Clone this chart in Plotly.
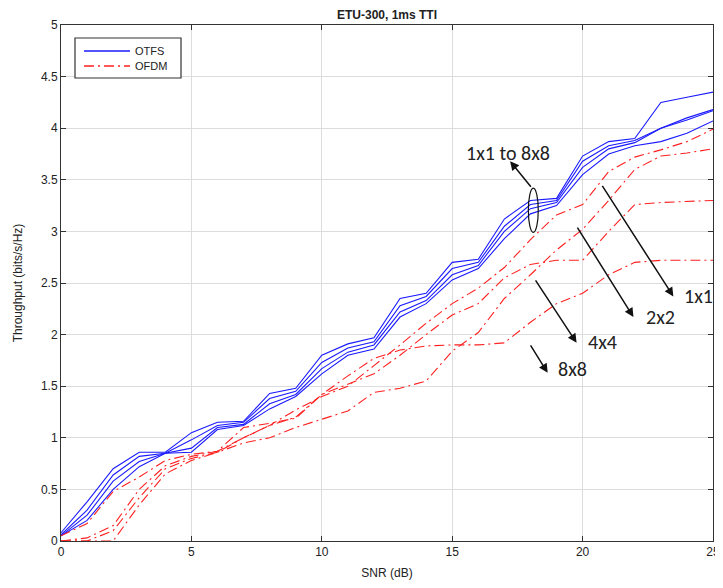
import plotly.graph_objects as go

snr = list(range(0, 26))

otfs_1 = [0.08, 0.38, 0.70, 0.86, 0.86, 1.05, 1.15, 1.16, 1.43, 1.48, 1.80, 1.91, 1.97, 2.35, 2.40, 2.70, 2.73, 3.12, 3.30, 3.32, 3.73, 3.87, 3.90, 4.25, 4.30, 4.35]
otfs_2 = [0.06, 0.30, 0.64, 0.82, 0.85, 0.98, 1.12, 1.15, 1.38, 1.45, 1.73, 1.87, 1.93, 2.28, 2.37, 2.64, 2.70, 3.05, 3.26, 3.30, 3.68, 3.83, 3.88, 4.00, 4.10, 4.18]
otfs_3 = [0.05, 0.25, 0.58, 0.77, 0.85, 0.90, 1.10, 1.13, 1.33, 1.42, 1.67, 1.83, 1.90, 2.22, 2.33, 2.58, 2.67, 3.00, 3.22, 3.28, 3.62, 3.80, 3.86, 4.00, 4.08, 4.17]
otfs_4 = [0.05, 0.20, 0.50, 0.72, 0.85, 0.86, 1.08, 1.12, 1.28, 1.40, 1.62, 1.80, 1.86, 2.17, 2.30, 2.53, 2.64, 2.93, 3.17, 3.25, 3.55, 3.75, 3.83, 3.87, 3.95, 4.07]

ofdm_1x1 = [0.05, 0.17, 0.48, 0.62, 0.78, 0.84, 0.87, 1.00, 1.12, 1.27, 1.40, 1.50, 1.70, 1.90, 2.11, 2.30, 2.45, 2.65, 2.92, 3.16, 3.26, 3.58, 3.72, 3.79, 3.87, 3.99]
ofdm_2x2 = [0.00, 0.00, 0.10, 0.42, 0.70, 0.80, 0.86, 0.95, 1.00, 1.10, 1.18, 1.26, 1.44, 1.48, 1.55, 1.84, 2.02, 2.35, 2.58, 2.82, 3.02, 3.30, 3.60, 3.73, 3.76, 3.80]
ofdm_4x4 = [0.00, 0.03, 0.15, 0.50, 0.73, 0.82, 0.87, 1.10, 1.14, 1.19, 1.42, 1.52, 1.62, 1.80, 2.00, 2.19, 2.30, 2.55, 2.68, 2.72, 2.72, 3.00, 3.26, 3.28, 3.29, 3.30]
ofdm_8x8 = [0.00, 0.00, 0.00, 0.35, 0.65, 0.78, 0.86, 1.00, 1.12, 1.20, 1.42, 1.60, 1.77, 1.85, 1.89, 1.90, 1.90, 1.92, 2.12, 2.30, 2.40, 2.58, 2.70, 2.72, 2.72, 2.72]

otfs_series = [otfs_1, otfs_2, otfs_3, otfs_4]
ofdm_series = [ofdm_1x1, ofdm_2x2, ofdm_4x4, ofdm_8x8]

x_ticks = [0, 5, 10, 15, 20, 25]
y_ticks = [0, 0.5, 1, 1.5, 2, 2.5, 3, 3.5, 4, 4.5, 5]
y_tick_labels = ["0", "0.5", "1", "1.5", "2", "2.5", "3", "3.5", "4", "4.5", "5"]

BLUE = "#1a1aff"
RED = "#ff2020"
DASHDOT = "10px,4px,2px,4px"

fig = go.Figure()
for i, s in enumerate(otfs_series):
    fig.add_trace(go.Scatter(x=snr, y=s, mode="lines", name="OTFS",
                             line=dict(color=BLUE, width=1.1),
                             showlegend=False, legendgroup="otfs"))
for i, s in enumerate(ofdm_series):
    fig.add_trace(go.Scatter(x=snr, y=s, mode="lines", name="OFDM",
                             line=dict(color=RED, width=1.1, dash=DASHDOT),
                             showlegend=False, legendgroup="ofdm"))

font_main = "Arial, Liberation Sans, sans-serif"
font_ann = "Carlito, Calibri, Lato, sans-serif"
txt = "#222"

FIG_W, FIG_H = 715, 572

fig.update_layout(
    width=FIG_W, height=FIG_H,
    margin=dict(l=53, r=10, t=17, b=39, autoexpand=False),
    paper_bgcolor="white", plot_bgcolor="white",
    title=dict(text="<b>ETU-300, 1ms TTI</b>", x=(387 - 8) / FIG_W, xanchor="center",
               y=1 - 6.5 / FIG_H, yanchor="middle",
               font=dict(family=font_main, size=12, color=txt)),
    xaxis=dict(range=[0, 25], tickvals=x_ticks, ticks="inside", ticklen=5, tickcolor="#333",
               showgrid=True, gridcolor="#dcdcdc", gridwidth=1, zeroline=False,
               showline=True, linecolor="#333", linewidth=1, mirror="ticks", automargin=False,
               tickfont=dict(family=font_main, size=12, color=txt),
               title=dict(text="SNR (dB)", font=dict(family=font_main, size=12, color=txt), standoff=13)),
    yaxis=dict(range=[0, 5], tickvals=y_ticks, ticktext=y_tick_labels, ticks="inside", ticklen=5, tickcolor="#333",
               showgrid=True, gridcolor="#dcdcdc", gridwidth=1, zeroline=False,
               showline=True, linecolor="#333", linewidth=1, mirror="ticks", automargin=False,
               tickfont=dict(family=font_main, size=12, color=txt),
               title=dict(text="Throughput (bits/s/Hz)", font=dict(family=font_main, size=12, color=txt), standoff=15)),
    showlegend=False,
)

# Legend drawn in plot-area paper coordinates (plot area: 652 x 516 px)
PW, PH = 652.0, 516.0
def px_x(dx):
    return dx / PW
def px_y(dy):
    return 1 - dy / PH

fig.add_shape(type="rect", xref="paper", yref="paper",
              x0=px_x(14), x1=px_x(120), y0=px_y(53), y1=px_y(13),
              line=dict(color="#333", width=1.2), fillcolor="white", layer="above")
legend_items = [("OTFS", BLUE, "solid", 26), ("OFDM", RED, DASHDOT, 41)]
for name, col, dsh, yy in legend_items:
    fig.add_shape(type="line", xref="paper", yref="paper",
                  x0=px_x(23), x1=px_x(69), y0=px_y(yy), y1=px_y(yy),
                  line=dict(color=col, width=1.3, dash=dsh), layer="above")
    fig.add_annotation(xref="paper", yref="paper", x=px_x(72), y=px_y(yy), text=name,
                       showarrow=False, xanchor="left", yanchor="middle",
                       font=dict(family=font_main, size=11, color=txt))

# Ellipse around OTFS bundle
fig.add_shape(type="circle", xref="x", yref="y", x0=17.92, x1=18.30, y0=2.99, y1=3.42,
              line=dict(color="#111", width=1.2))

ann_font = dict(family=font_ann, size=20, color=txt)
# Arrow "1x1 to 8x8"
fig.add_annotation(x=17.22, y=3.68, ax=22, ay=27, xref="x", yref="y", axref="pixel", ayref="pixel",
                   text="", showarrow=True, arrowhead=2, arrowsize=1.2, arrowwidth=1.5, arrowcolor="#111")
fig.add_annotation(x=17.15, y=3.76, text="1x1 to 8x8", showarrow=False, font=ann_font,
                   xanchor="center", yanchor="middle")

arrows = [
    # (head_x, head_y, tail_dx_px, tail_dy_px, label, label_x, label_y)
    (23.48, 2.37, -72, -112, "1x1", 24.45, 2.37),
    (21.95, 2.17, -57, -91, "2x2", 22.98, 2.17),
    (19.77, 1.92, -42, -64, "4x4", 20.78, 1.93),
    (18.66, 1.63, -18, -29, "8x8", 19.63, 1.67),
]
for hx, hy, dx, dy, lab, lx, ly in arrows:
    fig.add_annotation(x=hx, y=hy, ax=dx, ay=dy, xref="x", yref="y", axref="pixel", ayref="pixel",
                       text="", showarrow=True, arrowhead=2, arrowsize=1.2, arrowwidth=1.5, arrowcolor="#111")
    fig.add_annotation(x=lx, y=ly, text=lab, showarrow=False, font=ann_font, xanchor="center", yanchor="middle")

fig.write_html("out.html")
